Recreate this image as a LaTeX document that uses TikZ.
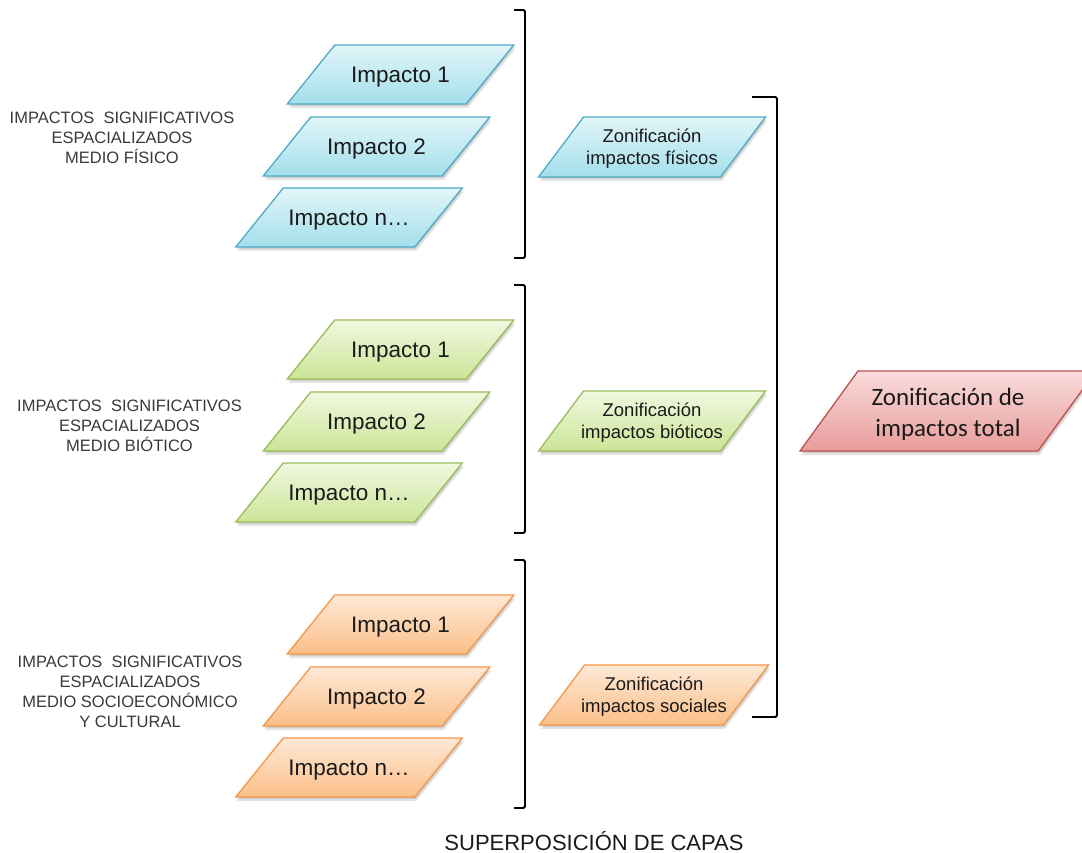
\documentclass[tikz,border=0pt]{standalone}
\usepackage{fontspec}
\setmainfont{Liberation Sans}
\newfontfamily\calfont{Carlito}
\definecolor{bluetop}{HTML}{E2F5F9}
\definecolor{bluebot}{HTML}{A3DFEB}
\definecolor{blueline}{HTML}{4BACC6}
\definecolor{greentop}{HTML}{F1F8E0}
\definecolor{greenbot}{HTML}{CBE597}
\definecolor{greenline}{HTML}{9BBB59}
\definecolor{orangetop}{HTML}{FEE9D6}
\definecolor{orangebot}{HTML}{FBBF89}
\definecolor{orangeline}{HTML}{F79646}
\definecolor{redtop}{HTML}{FADCDC}
\definecolor{redbot}{HTML}{E79C9B}
\definecolor{redline}{HTML}{C0504D}
\definecolor{txt}{HTML}{1A1A1A}
\definecolor{labeltxt}{HTML}{3A3A3A}
\tikzset{
  bracketline/.style={draw=black, line width=1.8pt, rounded corners=1.5pt},
  impactotext/.style={font=\fontsize{22.5}{26}\selectfont, text=txt, yshift=-2.5pt},
  zontext/.style={font=\fontsize{18.5}{22}\selectfont, text=txt, align=center, yshift=-2pt},
  totaltext/.style={font=\calfont\fontsize{25}{31}\selectfont, text=txt, align=center, yshift=-3pt},
  grouplabel/.style={font=\fontsize{16.5}{20}\selectfont, text=labeltxt, align=center},
  titletext/.style={font=\fontsize{22}{24}\selectfont, text=txt, inner sep=0pt, anchor=base},
}
% #1 name, #2 cx, #3 cy, #4 half width, #5 half height, #6 half shift, #7 colour, #8 text style, #9 text
\newcommand\parabox[9]{%
  \begin{scope}[shift={(#2,#3)}]
    \fill[black, opacity=0.10] (-#4-#6+1.5,#5+4) -- (-#4+#6+1.5,-#5+4) -- (#4+#6+1.5,-#5+4) -- (#4-#6+1.5,#5+4) -- cycle;
    \fill[black, opacity=0.10] (-#4-#6+1,#5+2) -- (-#4+#6+1,-#5+2) -- (#4+#6+1,-#5+2) -- (#4-#6+1,#5+2) -- cycle;
    \shade[top color=#7top, bottom color=#7bot, draw=#7line, line width=1.3pt]
      (-#4-#6,#5) -- (-#4+#6,-#5) -- (#4+#6,-#5) -- (#4-#6,#5) -- cycle;
    \node[#8] (#1) at (0,0) {#9};
  \end{scope}}
\begin{document}
\begin{tikzpicture}[x=1pt,y=-1pt]
\useasboundingbox (0,0) rectangle (1082,853);
\clip (0,0) rectangle (1082,853);
\fill[white] (0,0) rectangle (1082,853);

% physical
\parabox{b1}{400.5}{74.5}{89.5}{29.5}{23.75}{blue}{impactotext}{Impacto 1}
\parabox{b2}{376.5}{146.5}{89.5}{29.5}{23.75}{blue}{impactotext}{Impacto 2}
\parabox{bn}{349}{217.5}{89.5}{29.5}{23.75}{blue}{impactotext}{Impacto n…}
% biotic
\parabox{g1}{400.5}{349.5}{89.5}{29.5}{23.75}{green}{impactotext}{Impacto 1}
\parabox{g2}{376.5}{421.5}{89.5}{29.5}{23.75}{green}{impactotext}{Impacto 2}
\parabox{gn}{349}{492.5}{89.5}{29.5}{23.75}{green}{impactotext}{Impacto n…}
% social
\parabox{o1}{400.5}{624.5}{89.5}{29.5}{23.75}{orange}{impactotext}{Impacto 1}
\parabox{o2}{376.5}{696.5}{89.5}{29.5}{23.75}{orange}{impactotext}{Impacto 2}
\parabox{on}{349}{767.5}{89.5}{29.5}{23.75}{orange}{impactotext}{Impacto n…}

% zonification boxes
\parabox{zb}{652}{147}{91}{30}{22.5}{blue}{zontext}{Zonificación\\impactos físicos}
\parabox{zg}{652}{421}{91}{30}{22.5}{green}{zontext}{Zonificación\\impactos bióticos}
\parabox{zo}{654}{695}{92}{30}{22.5}{orange}{zontext}{Zonificación\\impactos sociales}

% total
\parabox{zt}{948}{411}{119}{40}{29}{red}{totaltext}{Zonificación de\\impactos total}

% brackets
\draw[bracketline] (514,10) -- (525,10) -- (525,258) -- (514,258);
\draw[bracketline] (514,285) -- (525,285) -- (525,533) -- (514,533);
\draw[bracketline] (514,560) -- (525,560) -- (525,808) -- (514,808);
\draw[bracketline] (752,97) -- (777,97) -- (777,717) -- (752,717);

% group labels
\node[grouplabel] (l1) at (122,138) {IMPACTOS\ \ SIGNIFICATIVOS\\ESPACIALIZADOS\\MEDIO FÍSICO};
\node[grouplabel] (l2) at (129.5,426) {IMPACTOS\ \ SIGNIFICATIVOS\\ESPACIALIZADOS\\MEDIO BIÓTICO};
\node[grouplabel] (l3) at (130,692) {IMPACTOS\ \ SIGNIFICATIVOS\\ESPACIALIZADOS\\MEDIO SOCIOECONÓMICO\\Y CULTURAL};

% title
\node[titletext] (title) at (594,850) {SUPERPOSICIÓN DE CAPAS};
\end{tikzpicture}
\end{document}
